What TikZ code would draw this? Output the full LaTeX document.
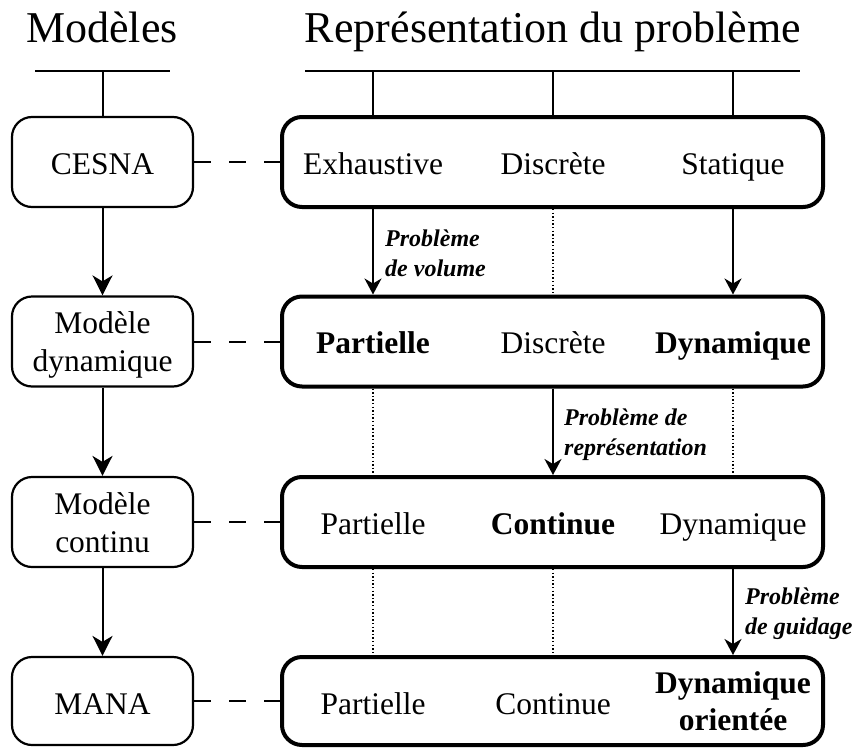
\documentclass[tikz,border=0pt]{standalone}
\usepackage{fontspec}
\setmainfont{Liberation Serif}
\usetikzlibrary{arrows.meta}

\begin{document}
\begin{tikzpicture}[x=1pt,y=-1pt,
  lbox/.style={draw, line width=2.2pt, rounded corners=20pt,
    minimum width=181pt, minimum height=90pt, inner sep=0pt},
  rbox/.style={draw, line width=4pt, rounded corners=20pt,
    minimum width=541pt, minimum height=90pt, inner sep=0pt},
  txt/.style={font=\fontsize{31.5}{38}\selectfont, inner sep=0pt,
    anchor=base, align=center},
  btxt/.style={txt, font=\fontsize{31.5}{37}\selectfont\bfseries},
  lab/.style={font=\fontsize{24}{30}\selectfont\bfseries\itshape,
    inner sep=0pt, anchor=base west, align=left},
  title/.style={font=\fontsize{44}{50}\selectfont, inner sep=0pt, anchor=base},
  link/.style={line width=2pt},
  flow/.style={line width=2pt, -{Stealth[length=20pt,width=20pt,inset=6pt]}},
  rflow/.style={line width=2pt, -{Stealth[length=16pt,width=17pt,inset=5pt]}},
  guide/.style={line width=1.3pt, dash pattern=on 1.4pt off 2.2pt},
  tie/.style={line width=2pt, dash pattern=on 17pt off 18pt}]

\useasboundingbox (0,0) rectangle (859,747);

% column headings
\node[title] (tmod) at (102,42) {Modèles};
\node[title] (trep) at (553,42) {Représentation du problème};

% model boxes (left column)
\node[lbox] (m1) at (102.5,162) {};
\node[lbox] (m2) at (102.5,341.5) {};
\node[lbox] (m3) at (102.5,522) {};
\node[lbox, minimum height=88pt] (m4) at (102.5,701) {};

% multi-line nodes are placed by the baseline of their last line
\node[txt] (m1t) at (102.5,174) {CESNA};
\node[txt] (m2t) at (102.5,371) {Modèle\\dynamique};
\node[txt] (m3t) at (102.5,552) {Modèle\\continu};
\node[txt] (m4t) at (102.5,714) {MANA};

% representation boxes (right column)
\node[rbox] (r1) at (552.5,162) {};
\node[rbox] (r2) at (552.5,341.5) {};
\node[rbox] (r3) at (552.5,522) {};
\node[rbox, minimum height=88pt] (r4) at (552.5,701) {};

% header rails
\coordinate (ml) at (35,71);
\coordinate (mr) at (170,71);
\coordinate (mc) at (102.5,71);
\coordinate (rl) at (305,71);
\coordinate (rr) at (800,71);
\coordinate (c1) at (373,71);
\coordinate (c2) at (553,71);
\coordinate (c3) at (733,71);

\draw[link] (ml) -- (mr);
\draw[link] (mc) -- (m1.north);
\draw[link] (rl) -- (rr);
\foreach \c in {c1,c2,c3} \draw[link] (\c) -- (\c |- r1.north);

% row 1
\node[txt] (a1) at (373,174) {Exhaustive};
\node[txt] (a2) at (553,174) {Discrète};
\node[txt] (a3) at (733,174) {Statique};
% row 2
\node[btxt] (b1) at (373,353.5) {Partielle};
\node[txt]  (b2) at (553,353.5) {Discrète};
\node[btxt] (b3) at (733,353.5) {Dynamique};
% row 3
\node[txt]  (d1) at (373,534) {Partielle};
\node[btxt] (d2) at (553,534) {Continue};
\node[txt]  (d3) at (733,534) {Dynamique};
% row 4
\node[txt]  (e1) at (373,714) {Partielle};
\node[txt]  (e2) at (553,714) {Continue};
\node[btxt] (e3) at (733,730) {Dynamique\\orientée};

% model evolution
\draw[flow] (m1) -- (m2);
\draw[flow] (m2) -- (m3);
\draw[flow] (m3) -- (m4);

% model-to-representation ties
\draw[tie] (m1) -- (r1);
\draw[tie] (m2) -- (r2);
\draw[tie] (m3) -- (r3);
\draw[tie] (m4) -- (r4);

% transitions between representations
\draw[rflow] (c1 |- r1.south) -- (c1 |- r2.north);
\draw[guide] (c2 |- r1.south) -- (c2 |- r2.north);
\draw[rflow] (c3 |- r1.south) -- (c3 |- r2.north);

\draw[guide] (c1 |- r2.south) -- (c1 |- r3.north);
\draw[rflow] (c2 |- r2.south) -- (c2 |- r3.north);
\draw[guide] (c3 |- r2.south) -- (c3 |- r3.north);

\draw[guide] (c1 |- r3.south) -- (c1 |- r4.north);
\draw[guide] (c2 |- r3.south) -- (c2 |- r4.north);
\draw[rflow] (c3 |- r3.south) -- (c3 |- r4.north);

% problem labels
\node[lab] (p1) at (385,276) {Problème\\de volume};
\node[lab] (p2) at (564,455) {Problème de\\représentation};
\node[lab] (p3) at (745,634) {Problème\\de guidage};

\end{tikzpicture}
\end{document}
